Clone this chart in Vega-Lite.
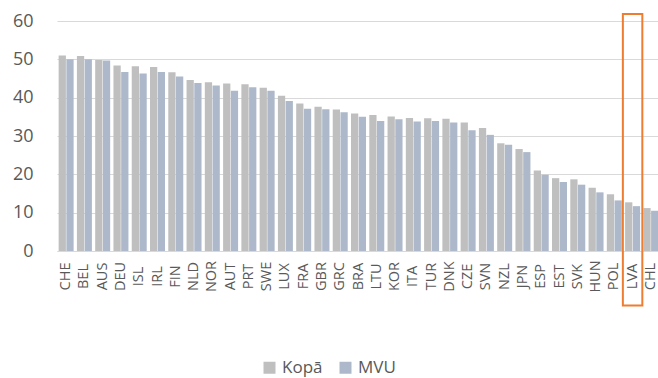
{
  "$schema": "https://vega.github.io/schema/vega-lite/v6.json",
  "autosize": "none",
  "width": 603,
  "height": 230,
  "padding": {"left": 57, "top": 21, "right": 0, "bottom": 127},
  "background": "white",
  "config": {
    "view": {"stroke": null},
    "font": "Open Sans"
  },
  "datasets": {
    "main": [
      {"country": "CHE", "series": "Kopā", "value": 51.0}, {"country": "CHE", "series": "MVU", "value": 50.0},
      {"country": "BEL", "series": "Kopā", "value": 50.9}, {"country": "BEL", "series": "MVU", "value": 50.0},
      {"country": "AUS", "series": "Kopā", "value": 49.8}, {"country": "AUS", "series": "MVU", "value": 49.7},
      {"country": "DEU", "series": "Kopā", "value": 48.4}, {"country": "DEU", "series": "MVU", "value": 46.7},
      {"country": "ISL", "series": "Kopā", "value": 48.2}, {"country": "ISL", "series": "MVU", "value": 46.3},
      {"country": "IRL", "series": "Kopā", "value": 48.0}, {"country": "IRL", "series": "MVU", "value": 46.7},
      {"country": "FIN", "series": "Kopā", "value": 46.6}, {"country": "FIN", "series": "MVU", "value": 45.5},
      {"country": "NLD", "series": "Kopā", "value": 44.6}, {"country": "NLD", "series": "MVU", "value": 43.8},
      {"country": "NOR", "series": "Kopā", "value": 44.0}, {"country": "NOR", "series": "MVU", "value": 43.2},
      {"country": "AUT", "series": "Kopā", "value": 43.7}, {"country": "AUT", "series": "MVU", "value": 41.8},
      {"country": "PRT", "series": "Kopā", "value": 43.5}, {"country": "PRT", "series": "MVU", "value": 42.7},
      {"country": "SWE", "series": "Kopā", "value": 42.6}, {"country": "SWE", "series": "MVU", "value": 41.8},
      {"country": "LUX", "series": "Kopā", "value": 40.5}, {"country": "LUX", "series": "MVU", "value": 39.1},
      {"country": "FRA", "series": "Kopā", "value": 38.5}, {"country": "FRA", "series": "MVU", "value": 37.1},
      {"country": "GBR", "series": "Kopā", "value": 37.6}, {"country": "GBR", "series": "MVU", "value": 37.0},
      {"country": "GRC", "series": "Kopā", "value": 36.9}, {"country": "GRC", "series": "MVU", "value": 36.2},
      {"country": "BRA", "series": "Kopā", "value": 35.9}, {"country": "BRA", "series": "MVU", "value": 35.0},
      {"country": "LTU", "series": "Kopā", "value": 35.5}, {"country": "LTU", "series": "MVU", "value": 33.9},
      {"country": "KOR", "series": "Kopā", "value": 35.1}, {"country": "KOR", "series": "MVU", "value": 34.4},
      {"country": "ITA", "series": "Kopā", "value": 34.7}, {"country": "ITA", "series": "MVU", "value": 33.8},
      {"country": "TUR", "series": "Kopā", "value": 34.6}, {"country": "TUR", "series": "MVU", "value": 33.9},
      {"country": "DNK", "series": "Kopā", "value": 34.5}, {"country": "DNK", "series": "MVU", "value": 33.5},
      {"country": "CZE", "series": "Kopā", "value": 33.5}, {"country": "CZE", "series": "MVU", "value": 31.5},
      {"country": "SVN", "series": "Kopā", "value": 32.1}, {"country": "SVN", "series": "MVU", "value": 30.3},
      {"country": "NZL", "series": "Kopā", "value": 28.1}, {"country": "NZL", "series": "MVU", "value": 27.7},
      {"country": "JPN", "series": "Kopā", "value": 26.6}, {"country": "JPN", "series": "MVU", "value": 25.8},
      {"country": "ESP", "series": "Kopā", "value": 21.0}, {"country": "ESP", "series": "MVU", "value": 19.9},
      {"country": "EST", "series": "Kopā", "value": 19.0}, {"country": "EST", "series": "MVU", "value": 18.0},
      {"country": "SVK", "series": "Kopā", "value": 18.7}, {"country": "SVK", "series": "MVU", "value": 17.3},
      {"country": "HUN", "series": "Kopā", "value": 16.5}, {"country": "HUN", "series": "MVU", "value": 15.3},
      {"country": "POL", "series": "Kopā", "value": 14.8}, {"country": "POL", "series": "MVU", "value": 13.2},
      {"country": "LVA", "series": "Kopā", "value": 12.7}, {"country": "LVA", "series": "MVU", "value": 11.7},
      {"country": "CHL", "series": "Kopā", "value": 11.2}, {"country": "CHL", "series": "MVU", "value": 10.5}
    ],
    "highlight": [{"country": "LVA"}]
  },
  "encoding": {
    "x": {
      "field": "country", "type": "nominal", "sort": null,
      "scale": {"paddingInner": 0.18, "paddingOuter": 0.09},
      "axis": {
        "title": null, "labelAngle": -90, "labelAlign": "center", "labelBaseline": "middle",
        "labelPadding": 25, "ticks": false, "labelFontSize": 14.5, "labelColor": "#595959",
        "domainColor": "#D9D9D9", "domainWidth": 1, "labelOverlap": false
      }
    }
  },
  "layer": [
    {
      "data": {"name": "main"},
      "mark": {"type": "bar"},
      "encoding": {
        "xOffset": {"field": "series", "type": "nominal", "scale": {"paddingInner": 0.06}},
        "y": {
          "field": "value", "type": "quantitative",
          "scale": {"domain": [0, 60], "nice": false},
          "axis": {
            "title": null, "values": [0, 10, 20, 30, 40, 50, 60], "labelOverlap": false,
            "domain": false, "ticks": false,
            "labelPadding": 24, "labelFontSize": 18, "labelColor": "#595959",
            "gridColor": "#D9D9D9", "gridWidth": 1.2
          }
        },
        "color": {
          "field": "series", "type": "nominal",
          "scale": {"domain": ["Kopā", "MVU"], "range": ["#BFBFBF", "#ADB9CA"]},
          "legend": {
            "title": null, "orient": "none", "direction": "horizontal",
            "legendX": 204, "legendY": 338, "symbolType": "square", "symbolSize": 144,
            "symbolStrokeWidth": 0, "labelFontSize": 17, "labelColor": "#595959",
            "columnPadding": 14, "labelOffset": 4
          }
        }
      }
    },
    {
      "data": {"name": "highlight"},
      "mark": {"type": "rect", "fill": null, "stroke": "#ED7D31", "strokeWidth": 2, "width": {"band": 1.3}},
      "encoding": {
        "y": {
          "datum": 61.8, "type": "quantitative",
          "axis": {
            "title": null, "values": [0, 10, 20, 30, 40, 50, 60], "labelOverlap": false,
            "domain": false, "ticks": false,
            "labelPadding": 24, "labelFontSize": 18, "labelColor": "#595959",
            "gridColor": "#D9D9D9", "gridWidth": 1.2
          }
        },
        "y2": {"datum": -14.2}
      }
    }
  ]
}
